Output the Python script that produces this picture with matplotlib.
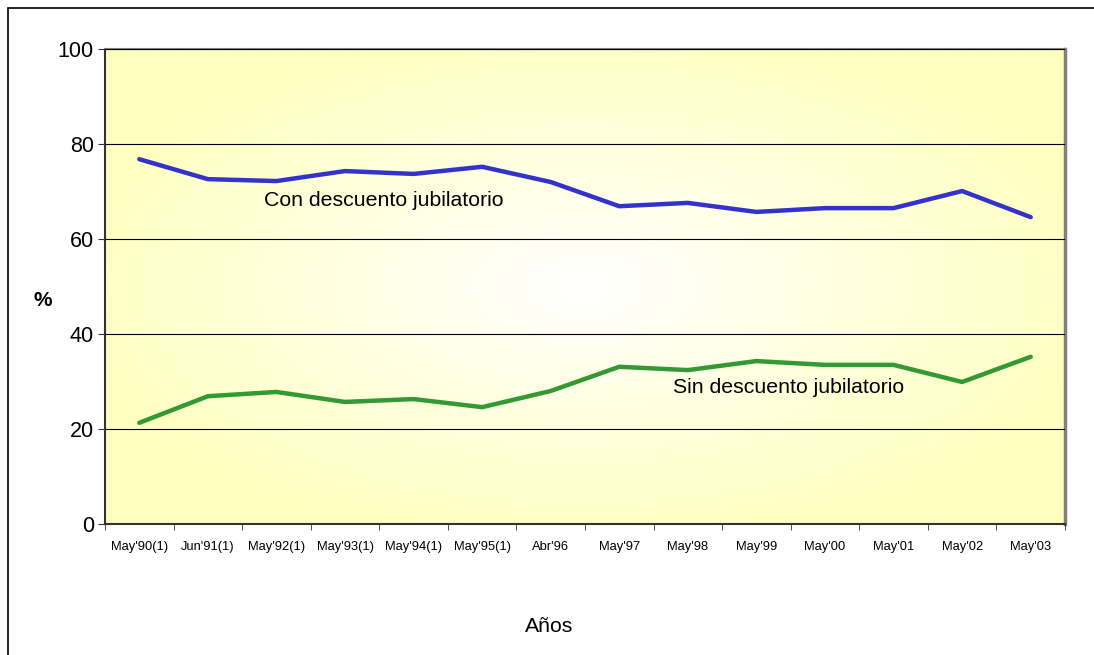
import numpy as np
import matplotlib
matplotlib.use("Agg")
import matplotlib.pyplot as plt
from matplotlib.colors import LinearSegmentedColormap
from matplotlib.patches import Rectangle

plt.rcParams['font.family'] = ['Liberation Sans', 'DejaVu Sans']

# === DATOS ===
years = ["May'90(1)", "Jun'91(1)", "May'92(1)", "May'93(1)", "May'94(1)", "May'95(1)",
         "Abr'96", "May'97", "May'98", "May'99", "May'00", "May'01", "May'02", "May'03"]
con_descuento = [76.8, 72.6, 72.2, 74.3, 73.7, 75.2, 72.0, 66.9, 67.6, 65.7, 66.5, 66.5, 70.1, 64.6]
sin_descuento = [21.3, 26.9, 27.8, 25.7, 26.3, 24.6, 28.0, 33.1, 32.4, 34.3, 33.5, 33.5, 29.9, 35.2]

W, H = 1094, 655
fig = plt.figure(figsize=(W / 100, H / 100), dpi=100)

# marco exterior (solo se ven borde izquierdo y superior)
fig.patches.append(Rectangle((7.5 / W, -0.1), 1.2, 1 - 7.5 / H + 0.1, transform=fig.transFigure,
                             fill=False, edgecolor='black', linewidth=1.2))

left, right, top, bottom = 105, 1065, 49, 524
ax = fig.add_axes([left / W, 1 - bottom / H, (right - left) / W, (bottom - top) / H])

# fondo degradado radial blanco -> amarillo
xx, yy = np.meshgrid(np.linspace(-1, 1, 400), np.linspace(-1, 1, 250))
rr = np.clip(np.sqrt(xx ** 2 + yy ** 2) / 1.1, 0, 1)
cmap = LinearSegmentedColormap.from_list("bg", ["#FFFFFF", "#FFFFC0"])
ax.imshow(rr, cmap=cmap, extent=[0, 1, 0, 1], transform=ax.transAxes,
          aspect='auto', zorder=0, interpolation='bilinear')

x = np.arange(len(years))
ax.plot(x, con_descuento, color='#3333CC', linewidth=3.2, zorder=3, solid_capstyle='round')
ax.plot(x, sin_descuento, color='#339933', linewidth=3.2, zorder=3, solid_capstyle='round')

ax.set_xlim(-0.5, len(years) - 0.5)
ax.set_ylim(0, 100)
ax.set_yticks([0, 20, 40, 60, 80, 100])
ax.yaxis.grid(True, color='black', linewidth=0.8)
ax.set_axisbelow(False)
for gl in ax.get_ygridlines():
    gl.set_zorder(2)

ax.set_xticks(x)
ax.set_xticklabels(years, fontsize=9.3)
ax.set_xticks(np.arange(-0.5, len(years)), minor=True)
ax.tick_params(axis='x', which='major', length=0, pad=12)
ax.tick_params(axis='x', which='minor', length=4, direction='out', color='#333333')
ax.tick_params(axis='y', length=5, direction='out', labelsize=15.5, color='#333333', pad=3)

for s in ax.spines.values():
    s.set_color('#808080')
    s.set_linewidth(1.5)
ax.spines['left'].set_color('#333333')
ax.spines['bottom'].set_color('#333333')
ax.spines['right'].set_linewidth(2.5)

ax.text(3.57, 68.2, "Con descuento jubilatorio", fontsize=15.3, ha='center', va='center', zorder=4)
ax.text(9.47, 28.8, "Sin descuento jubilatorio", fontsize=15.3, ha='center', va='center', zorder=4)

fig.text(43 / W, 1 - 300 / H, "%", fontsize=15, fontweight='bold', ha='center', va='center')
fig.text(549 / W, 1 - 626 / H, "Años", fontsize=15.3, ha='center', va='center')

fig.savefig("out.png", dpi=100)
